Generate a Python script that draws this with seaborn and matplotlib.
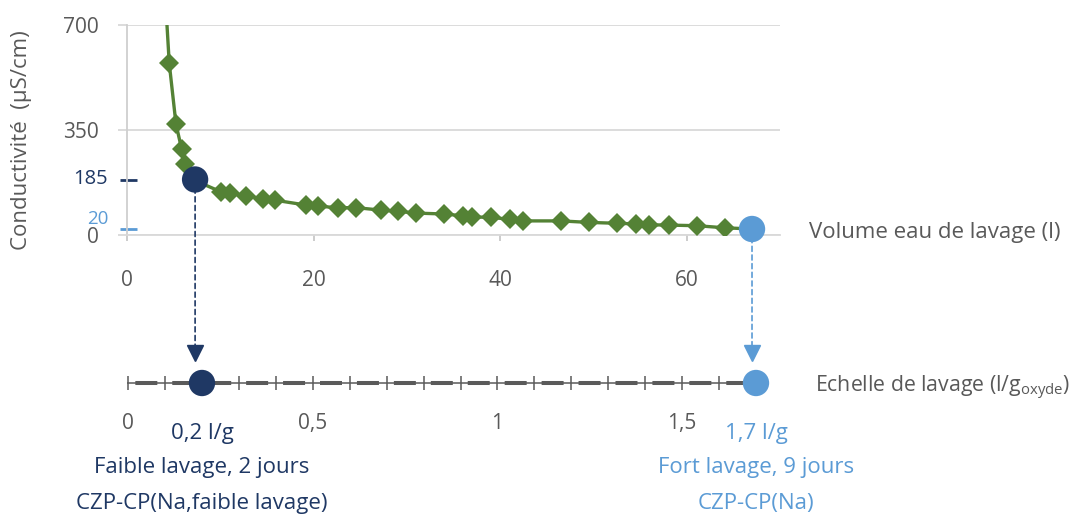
import numpy as np
import matplotlib
matplotlib.use('Agg')
import matplotlib.pyplot as plt
import matplotlib.transforms as mtransforms
from matplotlib.patches import ConnectionPatch
from matplotlib.ticker import MultipleLocator, FixedLocator
import seaborn as sns

# ---------------- data ----------------
volume = [4.0, 4.53, 5.25, 5.86, 6.2, 7.4, 10.07, 11.04, 12.75, 14.6, 15.86,
          19.15, 20.5, 22.6, 24.6, 27.2, 29.0, 31.0, 34.0, 36.0, 37.0, 39.0,
          41.05, 42.5, 46.5, 49.5, 52.55, 54.6, 56.0, 58.1, 61.06, 64.1, 67.0]
conductivity = [850, 572, 370, 286, 237, 180, 144, 139, 131, 120, 116,
                100, 96, 91, 91, 83, 79, 73, 70, 64, 60, 59,
                52, 47, 47, 42, 39, 37, 34, 33, 31, 24, 20]

highlight_vol = [7.3, 67.0]
highlight_cond = [185, 20]
highlight_scale = [0.2, 1.7]
highlight_names = ['faible', 'fort']
scale_labels = ['0,2 l/g', '1,7 l/g']
wash_labels = ['Faible lavage, 2 jours', 'Fort lavage, 9 jours']
sample_labels = ['CZP-CP(Na,faible lavage)', 'CZP-CP(Na)']

x_ticks = [0, 20, 40, 60]
y_ticks = [0, 350, 700]
scale_ticks = [0, 0.5, 1, 1.5]
scale_ticklabels = ['0', '0,5', '1', '1,5']

# ---------------- style ----------------
GREEN = '#548235'
NAVY = '#1f3864'
LIGHT = '#5b9bd5'
GRAY = '#595959'
DARK = '#5a5a5a'
GRID = '#d9d9d9'
hl_colors = [NAVY, LIGHT]

sns.set_theme(style='white')
plt.rcParams['font.family'] = ['Open Sans', 'DejaVu Sans']
plt.rcParams['mathtext.fontset'] = 'custom'
plt.rcParams['mathtext.rm'] = 'Open Sans'

W, H = 1080, 518
fig = plt.figure(figsize=(W / 100, H / 100), dpi=100)

def px_axes(l, t, r, b):
    return [l / W, 1 - b / H, (r - l) / W, (b - t) / H]

TXT = 16
TICK = 15

# ---------------- upper chart ----------------
ax1 = fig.add_axes(px_axes(127, 25, 780, 235))
sns.lineplot(x=volume, y=conductivity, ax=ax1, color=GREEN, lw=2.4,
             marker='D', markersize=10, markeredgecolor=GREEN,
             markeredgewidth=0, sort=False, zorder=3)
sns.scatterplot(x=highlight_vol, y=highlight_cond, hue=highlight_names,
                palette=hl_colors, s=360, edgecolor='none', legend=False,
                ax=ax1, zorder=5, clip_on=False)
ax1.set_xlim(0, 70)
ax1.set_ylim(0, 700)
ax1.set_xticks(x_ticks)
ax1.set_yticks(y_ticks)
ax1.grid(axis='y', color=GRID, lw=1.3)
ax1.grid(axis='x', visible=False)
for s in ['top', 'right']:
    ax1.spines[s].set_visible(False)
ax1.spines['left'].set_color('#cfcfcf')
ax1.spines['left'].set_linewidth(1.3)
ax1.spines['bottom'].set_color(GRID)
ax1.spines['bottom'].set_linewidth(1.3)
ax1.tick_params(axis='x', bottom=True, direction='out', length=4, width=1.3,
                color='#c8c8c8', pad=21, labelsize=TICK, labelcolor=GRAY)
ax1.tick_params(axis='y', left=True, direction='out', length=6.5, width=1.3,
                color=GRID, pad=14, labelsize=TICK, labelcolor=GRAY)
ax1.set_ylabel('Conductivité  (µS/cm)', fontsize=TXT, color=GRAY, va='center')
ax1.yaxis.set_label_coords((22 - 127) / 653, 0.452)
ax1.set_xlabel('Volume eau de lavage (l)', fontsize=TXT, color=GRAY,
               ha='left', va='center')
ax1.xaxis.set_label_coords((809 - 127) / 653, 0.014)

# highlighted conductivity levels on the y axis
blend1 = mtransforms.blended_transform_factory(ax1.transAxes, ax1.transData)
label_offsets = [0, 10]
label_sizes = [14.5, 13.5]
for c, col, off, fs in zip(highlight_cond, hl_colors, label_offsets, label_sizes):
    ax1.plot([-0.011, 0.0155], [c, c], transform=blend1, color=col, lw=2,
             clip_on=False, solid_capstyle='butt')
    ax1.annotate(str(c), xy=(-0.029, c), xycoords=blend1,
                 xytext=(0, off * 0.72), textcoords='offset points',
                 ha='right', va='center', fontsize=fs, color=col,
                 annotation_clip=False)

# ---------------- lower scale ----------------
ax2 = fig.add_axes(px_axes(127, 333, 780, 433))
ax2.set_facecolor('none')
ax2.set_xlim(-0.003, 1.765)
ax2.set_ylim(0, 1)
for s in ['top', 'left', 'right']:
    ax2.spines[s].set_visible(False)
sp = ax2.spines['bottom']
sp.set_position(('data', 0.5))
sp.set_linewidth(0)
line_start = -0.016
ax2.hlines(0.5, line_start, highlight_scale[-1], color=DARK, lw=2.9,
           linestyles=[(5.86, (5.46, 3.71))], capstyle='butt', zorder=2)
ax2.hlines(0.5, line_start, highlight_scale[-1], color=DARK, lw=1.1, zorder=1)
ax2.set_yticks([])
ax2.xaxis.set_major_locator(FixedLocator(scale_ticks))
ax2.xaxis.set_minor_locator(MultipleLocator(0.1))
ax2.set_xticklabels(scale_ticklabels)
ax2.tick_params(axis='x', which='both', bottom=True, direction='inout',
                length=9.5, width=1.1, color=DARK)
ax2.tick_params(axis='x', which='major', pad=17, labelsize=TICK,
                labelcolor=GRAY)

sns.scatterplot(x=highlight_scale, y=np.full(len(highlight_scale), 0.5),
                hue=highlight_names, palette=hl_colors, s=360, edgecolor='none',
                legend=False, ax=ax2, zorder=5, clip_on=False)

ax2.text((815 - 127) / 653, 0.45, r'Echelle de lavage (l/g$_\mathregular{oxyde}$)',
         transform=ax2.transAxes, ha='left', va='center', fontsize=15.3,
         color=GRAY)

for xs, col, l1, l2, l3 in zip(highlight_scale, hl_colors, scale_labels,
                               wash_labels, sample_labels):
    ax2.text(xs, 0.0, l1, ha='center', va='center', fontsize=TXT, color=col,
             clip_on=False)
    ax2.text(xs, -0.35, l2, ha='center', va='center', fontsize=TXT, color=col,
             clip_on=False)
    ax2.text(xs, -0.70, l3, ha='center', va='center', fontsize=TXT, color=col,
             clip_on=False)

# ---------------- dashed arrows ----------------
blend_mix = mtransforms.blended_transform_factory(ax1.transData, ax2.transData)
for v, c, col in zip(highlight_vol, highlight_cond, hl_colors):
    con = ConnectionPatch(xyA=(v, c), coordsA=ax1.transData,
                          xyB=(v, 0.88), coordsB=blend_mix,
                          color=col, lw=1.2, linestyle=(0, (3, 2.2)), zorder=2)
    fig.add_artist(con)
    ax2.plot([v], [0.805], transform=blend_mix, marker='v', markersize=11.5,
             color=col, clip_on=False, linestyle='none')

fig.savefig('out.png', dpi=100)
